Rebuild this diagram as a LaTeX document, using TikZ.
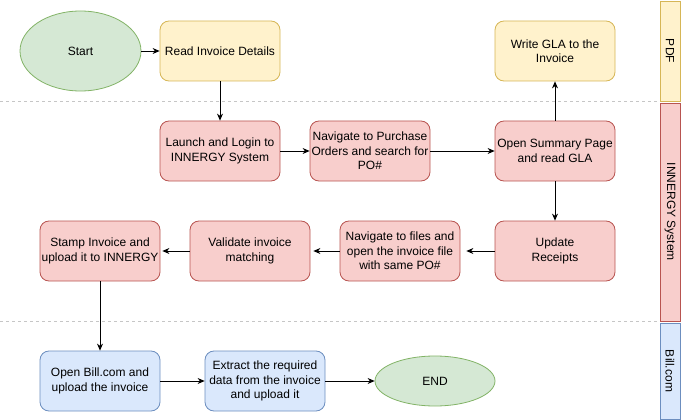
\documentclass[tikz,border=0pt]{standalone}
\usepackage{fontspec}
\setmainfont{Liberation Sans}
\usetikzlibrary{arrows.meta,shapes.geometric}

\definecolor{greenfill}{HTML}{D5E8D4}
\definecolor{greenline}{HTML}{82B366}
\definecolor{yellowfill}{HTML}{FFF2CC}
\definecolor{yellowline}{HTML}{D6B656}
\definecolor{redfill}{HTML}{F8CECC}
\definecolor{redline}{HTML}{B85450}
\definecolor{bluefill}{HTML}{DAE8FC}
\definecolor{blueline}{HTML}{6C8EBF}

\tikzset{
    txt/.style={font=\fontsize{12}{14.5}\selectfont},
    stepbox/.style={txt, draw, rounded corners=9pt, minimum width=120pt, minimum height=60pt,
        align=center, inner sep=1pt, line width=0.8pt},
    pdfbox/.style={stepbox, fill=yellowfill, draw=yellowline},
    innbox/.style={stepbox, fill=redfill, draw=redline},
    billbox/.style={stepbox, fill=bluefill, draw=blueline},
    terminal/.style={txt, ellipse, draw=greenline, fill=greenfill, line width=0.8pt, inner sep=0pt},
    lane/.style={txt, draw, line width=0.8pt, rotate=-90, minimum height=20pt, inner sep=0pt},
    lanesep/.style={gray!45, line width=0.8pt, dash pattern=on 3pt off 3pt},
    flow/.style={-{Stealth[length=7pt,width=6pt]}, line width=0.8pt},
}

\begin{document}
\begin{tikzpicture}[x=1pt,y=-1pt]
    \useasboundingbox (0,0) rectangle (681,420);

    % Swimlane separators
    \draw[lanesep] (0,101) -- (660,101);
    \draw[lanesep] (0,321) -- (660,321);

    % Swimlane labels
    \node[lane, fill=yellowfill, draw=yellowline, minimum width=100pt] (lanePDF) at (670,51) {PDF};
    \node[lane, fill=redfill, draw=redline, minimum width=218pt] (laneINN) at (670,212) {INNERGY System};
    \node[lane, fill=bluefill, draw=blueline, minimum width=96pt] (laneBill) at (670,371) {Bill.com};

    % PDF lane
    \node[terminal, minimum width=121pt, minimum height=80pt] (start) at (80.5,51) {Start};
    \node[pdfbox] (read) at (220,51) {Read Invoice Details};
    \node[pdfbox] (writegla) at (555,51) {Write GLA to the\\Invoice};

    % INNERGY lane
    \node[innbox] (login) at (220,151) {Launch and Login to\\INNERGY System};
    \node[innbox] (navpo) at (370,151) {Navigate to Purchase\\Orders and search for\\PO\#};
    \node[innbox] (summary) at (555,151) {Open Summary Page\\and read GLA};
    \node[innbox] (receipts) at (555,251) {Update\\Receipts};
    \node[innbox] (navfiles) at (400,251) {Navigate to files and\\open the invoice file\\with same PO\#};
    \node[innbox] (validate) at (250,251) {Validate invoice\\matching};
    \node[innbox] (stamp) at (100,251) {Stamp Invoice and\\upload it to INNERGY};

    % Bill.com lane
    \node[billbox] (openbill) at (100,381) {Open Bill.com and\\upload the invoice};
    \node[billbox] (extract) at (265,381) {Extract the required\\data from the invoice\\and upload it};
    \node[terminal, minimum width=120pt, minimum height=50pt] (finish) at (435,381) {END};

    % Connectors
    \draw[flow] (start) -- (read);
    \draw[flow] (read) -- (login);
    \draw[flow] (login) -- (navpo);
    \draw[flow] (navpo) -- (summary);
    \draw[flow] (summary) -- (writegla);
    \draw[flow] (summary) -- (receipts);
    \draw[flow, shorten >=6pt] (receipts) -- (navfiles);
    \draw[flow, shorten >=3pt] (navfiles) -- (validate);
    \draw[flow, shorten >=2pt] (validate) -- (stamp);
    \draw[flow] (stamp) -- (openbill);
    \draw[flow] (openbill) -- (extract);
    \draw[flow] (extract) -- (finish);

\end{tikzpicture}
\end{document}
